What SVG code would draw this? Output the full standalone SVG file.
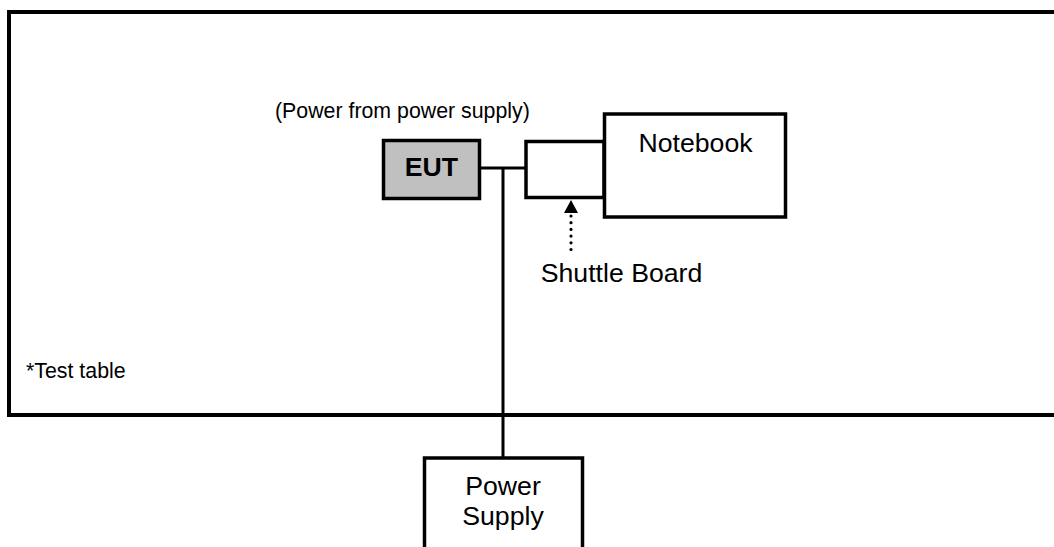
<svg xmlns="http://www.w3.org/2000/svg" width="1054" height="547" viewBox="0 0 1054 547">
<style>
.box{fill:#fff;stroke:#000;stroke-width:3.5}
.t{font-family:"Liberation Sans",Arial,sans-serif;fill:#000}
.big{font-size:26.67px}
.small{font-size:21.33px}
.ln{stroke:#000;stroke-width:3;fill:none}
</style>
<rect width="1054" height="547" fill="#fff"/>
<g id="table">
<rect x="9" y="12" width="1060" height="403" fill="none" stroke="#000" stroke-width="4"/>
<text class="t small" x="26" y="378">*Test table</text>
</g>
<g id="connectors">
<line class="ln" x1="481" y1="168" x2="525" y2="168"/>
<line class="ln" x1="503" y1="168" x2="503" y2="458"/>
<line x1="571" y1="216" x2="571" y2="256" stroke="#000" stroke-width="3.2" stroke-linecap="round" stroke-dasharray="0 6.7"/>
<polygon points="571,200 564,213 578,213" fill="#000"/>
</g>
<g id="eut">
<rect x="383.5" y="140.5" width="96" height="58" fill="#c0c0c0" stroke="#000" stroke-width="3.5"/>
<text class="t big" x="431.5" y="176" text-anchor="middle" font-weight="bold">EUT</text>
<text class="t small" x="275" y="118">(Power from power supply)</text>
</g>
<g id="shuttle">
<rect class="box" x="526" y="141.5" width="78" height="56"/>
<text class="t big" x="621.5" y="282" text-anchor="middle">Shuttle Board</text>
</g>
<g id="notebook">
<rect class="box" x="604.5" y="114" width="181" height="103"/>
<text class="t big" x="695.5" y="152" text-anchor="middle">Notebook</text>
</g>
<g id="power">
<rect class="box" x="424.5" y="458" width="158" height="120"/>
<text class="t big" x="503" y="495" text-anchor="middle">Power</text>
<text class="t big" x="503" y="525" text-anchor="middle">Supply</text>
</g>
</svg>
